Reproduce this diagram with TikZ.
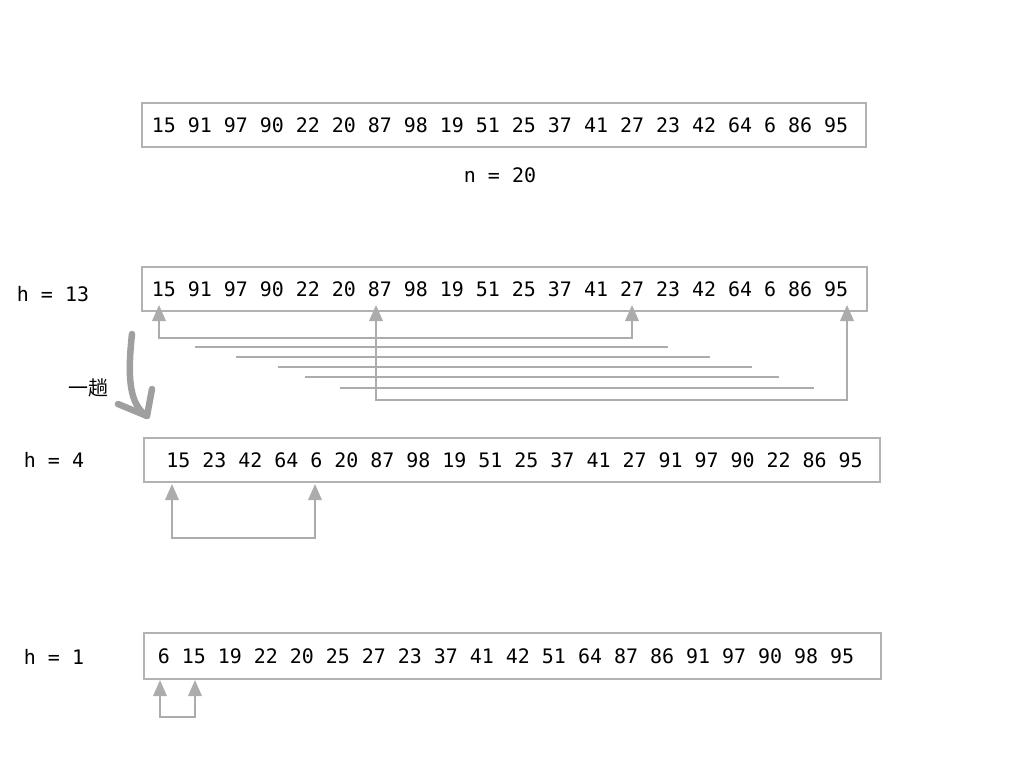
\documentclass[tikz,border=0pt]{standalone}
\usepackage{fontspec}
\setmonofont{DejaVu Sans Mono}
\newfontfamily\cjk{Noto Sans CJK SC}
\usetikzlibrary{arrows.meta,positioning,calc}

\begin{document}
\begin{tikzpicture}[
	x=0.02cm, y=-0.02cm,
	font=\ttfamily\fontsize{11.35}{13}\selectfont,
	seq/.style={rectangle, draw=gray!60, line width=1.3pt, minimum height=0.88cm, inner sep=0pt},
	tag/.style={inner sep=1pt},
	swap/.style={draw=gray!65, line width=1.2pt, {Triangle[length=0.32cm,width=0.27cm]}-{Triangle[length=0.32cm,width=0.27cm]}},
	trail/.style={draw=gray!65, line width=1.2pt},
	pass/.style={draw=gray!75, line width=0.13cm, line cap=round, line join=round}
]
\useasboundingbox (0,0) rectangle (1024,768);

% --- Input sequence ---
\node[seq, minimum width=14.48cm] (input) at (504,125) {15 91 97 90 22 20 87 98 19 51 25 37 41 27 23 42 64 6 86 95\kern0.16cm};
\node[tag] (len) at (500,175) {n = 20};

% --- Gap 13 ---
\node[seq, minimum width=14.5cm] (gap13) at (504.5,289) {15 91 97 90 22 20 87 98 19 51 25 37 41 27 23 42 64 6 86 95\kern0.18cm};
\node[tag] (h13) at (53,294) {h = 13};

% --- Gap 4 ---
\node[seq, minimum width=14.72cm] (gap4) at (512,460) {\kern0.1cm 15 23 42 64 6 20 87 98 19 51 25 37 41 27 91 97 90 22 86 95};
\node[tag] (h4) at (54,460) {h = 4};

% --- Gap 1 ---
\node[seq, minimum width=14.74cm, minimum height=0.92cm] (gap1) at (512.5,656) {6 15 19 22 20 25 27 23 37 41 42 51 64 87 86 91 97 90 98 95\kern0.26cm};
\node[tag] (h1) at (54,657) {h = 1};

% --- Arrow tips under the boxes ---
\coordinate (a15) at (159,305);
\coordinate (a87) at (376,305);
\coordinate (a27) at (632,305);
\coordinate (a95) at (847,305);
\coordinate (b15) at (172,484);
\coordinate (b6) at (315,484);
\coordinate (c6) at (160,680);
\coordinate (c15) at (195,680);

% --- Swaps ---
\draw[swap] (a15) -- ++(0,33) -| (a27);
\draw[swap] (a87) -- ++(0,95) -| (a95);
\draw[swap] (b15) -- ++(0,54) -| (b6);
\draw[swap] (c6) -- ++(0,37) -| (c15);

% other pairs of the pass
\foreach \y/\a/\b in {347/195/668, 357/236/710, 367/278/752, 377/305/779, 388/340/814}
	\draw[trail] (\a,\y) -- (\b,\y);

% --- One pass ---
\coordinate (p0) at (132,334);
\coordinate (p1) at (147,416);
\draw[pass] (p0) .. controls (127,380) and (130,405) .. (p1);
\draw[pass] (118,404) -- (p1) -- (152,389);
\node[tag, font=\cjk\fontsize{11.35}{13}\selectfont] (onepass) at (88,388) {一趟};

\end{tikzpicture}
\end{document}
